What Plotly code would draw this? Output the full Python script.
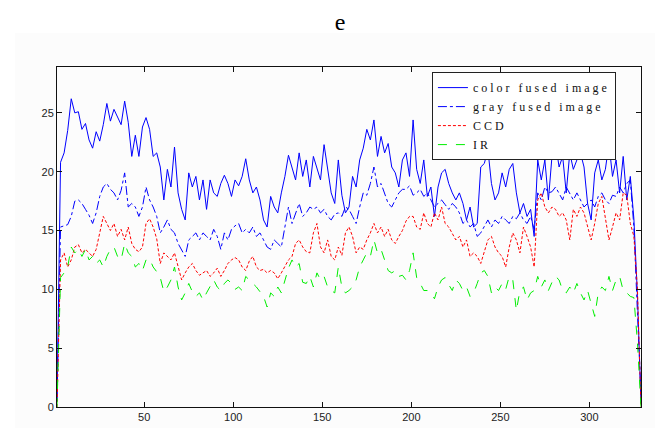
import plotly.graph_objects as go

# sample positions (every second frame)
frames = list(range(1, 330, 2))

color_fused = [
    0.5, 20.8, 21.6, 23.5, 26.2, 25.0, 25.1, 23.6, 24.1, 22.7,
    22.0, 23.4, 22.6, 24.0, 25.8, 24.3, 25.3, 24.6, 24.0, 26.0,
    24.2, 21.3, 23.1, 21.3, 23.8, 24.6, 23.6, 21.3, 21.6, 20.4,
    17.6, 20.2, 18.7, 22.1, 18.2, 16.8, 15.9, 19.9, 18.7, 19.6,
    17.6, 19.3, 16.8, 19.3, 18.2, 17.9, 19.0, 19.7, 19.0, 17.9,
    19.3, 18.8, 19.6, 21.1, 19.3, 18.2, 18.7, 17.6, 15.9, 15.3,
    17.9, 17.0, 16.5, 18.2, 19.6, 21.4, 20.4, 19.3, 21.6, 19.6,
    21.0, 18.7, 21.3, 20.2, 19.3, 22.3, 20.2, 18.2, 17.3, 21.0,
    18.0, 16.5, 17.0, 19.6, 18.7, 21.0, 22.0, 23.6, 22.7, 24.4,
    21.3, 23.0, 21.6, 22.4, 20.4, 19.9, 18.7, 21.0, 21.6, 19.6,
    24.4, 20.2, 19.0, 21.0, 17.9, 18.7, 16.2, 18.7, 19.9, 20.2,
    19.0, 18.2, 17.6, 18.2, 17.3, 15.9, 17.0, 15.3, 15.6, 20.4,
    20.7, 21.9, 19.0, 17.6, 18.2, 19.9, 18.7, 20.2, 20.7, 18.2,
    16.5, 17.3, 16.2, 16.8, 14.5, 21.0, 19.3, 21.0, 17.6, 21.3,
    22.4, 20.4, 21.3, 18.2, 21.6, 20.2, 21.0, 21.6, 20.4, 17.3,
    15.9, 19.9, 21.0, 19.3, 20.2, 22.4, 19.6, 21.0, 18.2, 21.3,
    17.6, 19.6, 16.0, 9.5, 0.3,
]

gray_fused = [
    0.5, 15.3, 15.4, 15.5, 16.2, 17.5, 17.6, 17.3, 16.8, 16.3,
    15.6, 16.5, 17.9, 18.7, 19.0, 18.5, 18.2, 17.6, 18.4, 19.9,
    17.0, 17.3, 17.0, 16.2, 17.0, 18.7, 17.6, 17.0, 16.2, 14.8,
    15.3, 15.9, 15.1, 14.8, 13.9, 13.4, 12.8, 14.2, 14.5, 14.8,
    14.2, 14.8, 14.5, 14.2, 15.1, 14.5, 13.4, 14.8, 14.2, 15.1,
    15.4, 15.6, 14.8, 15.1, 14.8, 15.3, 14.5, 14.8, 14.2, 13.6,
    13.4, 14.2, 13.9, 13.6, 15.3, 17.0, 15.6, 16.5, 17.3, 16.2,
    16.5, 17.0, 16.8, 17.0, 16.5, 16.8, 16.2, 15.9, 16.4, 16.5,
    16.2, 17.0, 16.8, 16.2, 15.6, 17.0, 18.2, 18.0, 19.0, 20.4,
    18.7, 19.0, 18.2, 17.3, 17.0, 17.6, 18.2, 18.5, 18.5, 18.8,
    18.0, 18.2, 18.5, 17.9, 18.2, 17.6, 17.0, 17.3, 17.6, 17.2,
    16.8, 17.3, 17.0, 16.5, 15.6, 15.9, 15.3, 15.6, 14.5, 14.8,
    15.3, 15.9, 15.3, 15.9, 15.6, 16.2, 15.9, 15.6, 16.2, 16.0,
    16.5, 15.9, 15.6, 16.2, 15.1, 18.2, 17.6, 18.7, 18.2, 18.3,
    18.7, 18.2, 17.6, 18.7, 18.2, 17.6, 18.2, 17.6, 17.0, 17.3,
    17.6, 17.0, 17.9, 18.2, 17.6, 17.3, 18.0, 17.9, 18.7, 18.2,
    19.0, 19.3, 15.3, 8.0, 1.0,
]

ccd = [
    0.0, 12.5, 13.1, 11.9, 12.5, 13.6, 13.8, 13.1, 13.4, 13.1,
    12.8, 13.4, 14.8, 16.2, 15.6, 15.0, 15.6, 14.5, 15.1, 14.2,
    15.3, 13.9, 13.4, 13.2, 13.6, 15.6, 16.0, 15.3, 14.3, 12.2,
    13.1, 12.8, 12.5, 13.1, 11.9, 10.8, 11.4, 11.9, 12.2, 11.6,
    11.2, 11.4, 11.6, 11.1, 11.4, 11.8, 11.1, 11.6, 12.2, 12.5,
    12.7, 12.5, 11.9, 11.6, 12.4, 12.8, 11.9, 11.6, 11.7, 11.4,
    11.6, 11.4, 10.9, 11.4, 11.9, 12.5, 12.8, 13.9, 14.2, 13.6,
    13.2, 13.1, 14.8, 15.6, 13.6, 13.1, 14.2, 12.8, 12.5, 13.6,
    12.9, 14.8, 15.3, 14.5, 13.1, 13.6, 13.4, 14.2, 14.8, 15.6,
    14.8, 15.3, 14.5, 15.1, 14.2, 13.9, 14.5, 15.0, 15.8, 16.2,
    16.2, 15.3, 15.1, 16.5, 15.6, 15.3, 16.5, 15.9, 17.0, 15.6,
    15.3, 14.8, 14.2, 14.5, 13.6, 14.2, 12.8, 13.1, 12.8, 12.2,
    13.1, 14.2, 14.5, 13.6, 13.1, 12.8, 11.9, 13.6, 14.8, 14.2,
    13.1, 15.3, 14.5, 13.6, 11.9, 17.6, 18.2, 17.0, 16.5, 17.0,
    16.8, 16.2, 16.5, 15.9, 14.2, 16.8, 16.2, 17.0, 16.5, 15.3,
    14.2, 15.6, 17.3, 17.9, 15.9, 14.2, 15.3, 16.5, 15.9, 18.2,
    18.0, 15.6, 14.5, 10.0, 0.0,
]

ir = [
    0.0, 11.0, 11.4, 11.9, 13.6, 13.1, 13.4, 12.8, 13.4, 12.5,
    12.8, 12.2, 12.5, 11.9, 12.8, 13.4, 13.6, 12.8, 12.5, 13.9,
    13.1, 12.8, 11.9, 12.2, 11.6, 12.5, 12.6, 11.9, 11.5, 11.0,
    9.8, 10.2, 10.8, 11.9, 10.2, 9.1, 9.7, 10.5, 9.8, 9.4,
    9.7, 9.1, 9.7, 10.2, 10.8, 10.2, 9.9, 10.5, 10.8, 10.5,
    10.0, 10.2, 9.9, 11.1, 10.8, 10.5, 10.2, 9.8, 9.4, 8.5,
    9.7, 9.4, 10.2, 9.7, 10.8, 11.8, 12.5, 11.9, 12.2, 10.6,
    10.5, 11.1, 10.2, 11.4, 10.8, 11.1, 10.2, 9.9, 9.7, 11.9,
    10.2, 9.7, 9.9, 10.2, 10.8, 11.9, 12.5, 13.1, 12.8, 14.2,
    13.1, 13.4, 12.5, 11.6, 11.4, 11.6, 11.1, 11.2, 10.8, 11.6,
    13.1, 11.0, 10.5, 9.9, 9.9, 9.7, 9.2, 10.2, 10.8, 11.0,
    10.4, 9.9, 10.8, 10.5, 9.9, 10.2, 9.4, 9.7, 10.5, 11.4,
    11.6, 11.1, 9.7, 10.2, 9.9, 10.5, 10.0, 11.1, 10.8, 8.2,
    9.9, 10.2, 9.1, 9.7, 9.9, 11.1, 10.2, 10.8, 9.9, 10.6,
    11.1, 10.8, 9.9, 9.7, 10.2, 9.7, 10.5, 9.7, 9.1, 9.9,
    8.8, 7.7, 9.7, 10.2, 9.9, 11.1, 9.9, 10.8, 11.1, 9.9,
    9.7, 9.4, 9.3, 5.5, 0.0,
]

series_names = ["color fused image", "gray fused image", "CCD", "IR"]
x_ticks = [50, 100, 150, 200, 250, 300]
y_ticks = [0, 5, 10, 15, 20, 25]

styles = [
    dict(color="#0000ff", dash="solid"),
    dict(color="#0000ff", dash="dashdot"),
    dict(color="#ff0000", dash="3px,2px"),
    dict(color="#00ee00", dash="dash"),
]

fig = go.Figure()
for name, vals, st in zip(series_names, [color_fused, gray_fused, ccd, ir], styles):
    fig.add_trace(go.Scatter(
        x=frames, y=vals, mode="lines",
        name='<span style="letter-spacing:3px">' + name + '</span>',
        line=dict(color=st["color"], dash=st["dash"], width=1),
    ))

axis_common = dict(
    showline=True, linecolor="#111", linewidth=1, mirror="allticks",
    ticks="inside", ticklen=5, tickcolor="#111", showgrid=False, zeroline=False,
    automargin=False,
    tickfont=dict(family="Liberation Sans, Arial, sans-serif", size=11, color="#222"),
)

# the page body adds an 8px offset, so the figure is 8px smaller than the window
fig.update_layout(
    width=655, height=420,
    margin=dict(l=49, r=22, t=59, b=21, pad=0, autoexpand=False),
    paper_bgcolor="white", plot_bgcolor="white",
    title=dict(text="e", x=0.507, xanchor="center", y=1 - 14 / 420, yanchor="middle",
               yref="container", automargin=False,
               font=dict(family="Liberation Serif, Times New Roman, serif", size=24, color="#000")),
    xaxis=dict(range=[1, 329], tickvals=x_ticks, **axis_common),
    yaxis=dict(range=[0, 28.9], tickvals=y_ticks, **axis_common),
    legend=dict(x=0.642, y=0.985, xanchor="left", yanchor="top",
                bgcolor="white", bordercolor="#222", borderwidth=1,
                font=dict(family="Liberation Serif, Times New Roman, serif", size=12, color="#111"),
                tracegroupgap=0),
    showlegend=True,
    shapes=[dict(type="rect", xref="paper", yref="paper", x0=-0.072, x1=1.04, y0=-0.07, y1=1.1,
                 fillcolor="#fcfcfc", line=dict(width=0), layer="below")],
)

fig.write_html("out.html")
